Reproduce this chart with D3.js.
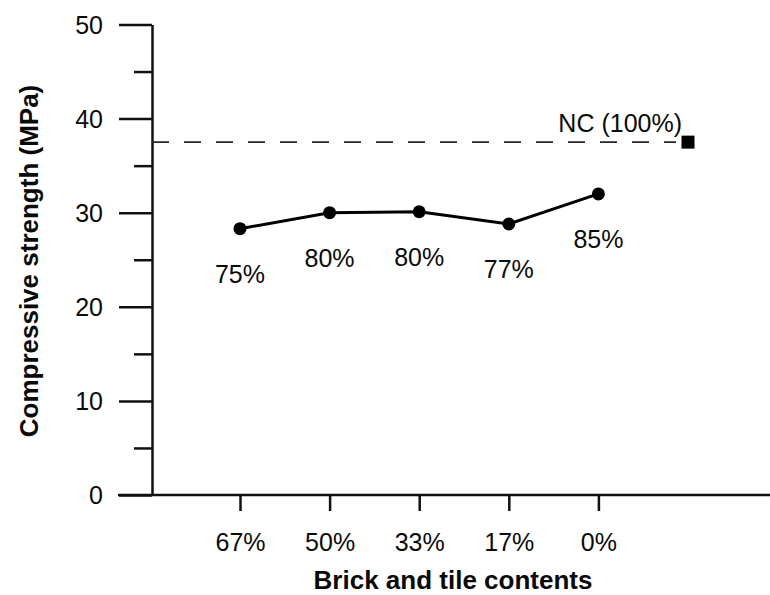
<!DOCTYPE html>
<html>
<head>
<meta charset="utf-8">
<script src="https://cdn.jsdelivr.net/npm/d3@7/dist/d3.min.js"></script>
<style>
  html, body { margin: 0; padding: 0; background: #fff; }
  svg { display: block; }
  text { font-family: "Liberation Sans", Arial, Helvetica, sans-serif; fill: #0a0a0a; }
</style>
</head>
<body>
<svg id="chart" width="770" height="595"></svg>
<script>
// ---- data ----
const categories = ["67%", "50%", "33%", "17%", "0%"];
const strength = [28.3, 30.0, 30.1, 28.8, 32.0];
const pointLabels = ["75%", "80%", "80%", "77%", "85%"];
const ncKey = "NC";
const ncValue = 37.5;
const ncLabel = "NC (100%)";
const yMajorTicks = [0, 10, 20, 30, 40, 50];
const yMinorTicks = [5, 15, 25, 35, 45];
const xTitle = "Brick and tile contents";
const yTitle = "Compressive strength (MPa)";

const svg = d3.select("#chart");

const x = d3.scalePoint().domain([...categories, ncKey]).range([240, 688]);
const y = d3.scaleLinear().domain([0, 50]).range([495, 24.5]);

// y axis major ticks
const yAxis = svg.append("g").attr("transform", "translate(152,0)")
  .call(d3.axisLeft(y).tickValues(yMajorTicks).tickSize(33).tickSizeOuter(0).tickPadding(16).tickFormat(d3.format("d")));
yAxis.selectAll("text").style("font-size", "25px").attr("dy", "0.35em");
yAxis.selectAll("line, path").attr("stroke", "#111").attr("stroke-width", 2.5);

// y axis minor ticks
const yMinor = svg.append("g").attr("transform", "translate(152,0)")
  .call(d3.axisLeft(y).tickValues(yMinorTicks).tickSize(18).tickSizeOuter(0).tickFormat(""));
yMinor.select(".domain").remove();
yMinor.selectAll("line").attr("stroke", "#111").attr("stroke-width", 2.5);

// x axis
const xAxis = svg.append("g").attr("transform", `translate(0,${y(0)})`)
  .call(d3.axisBottom(x).tickValues(categories).tickSize(16).tickPadding(22));
xAxis.select(".domain").remove();
xAxis.selectAll("text").style("font-size", "25px");
xAxis.selectAll("line").attr("stroke", "#111").attr("stroke-width", 2.5);
svg.append("line")
  .attr("x1", 118).attr("x2", 770)
  .attr("y1", y(0)).attr("y2", y(0))
  .attr("stroke", "#111").attr("stroke-width", 2.5);

// NC dashed reference line
svg.append("line")
  .attr("x1", 152).attr("x2", x(ncKey) - 12)
  .attr("y1", y(ncValue)).attr("y2", y(ncValue))
  .attr("stroke", "#2a2230").attr("stroke-width", 1.6)
  .attr("stroke-dasharray", "17,15");
svg.append("rect")
  .attr("x", x(ncKey) - 6.5).attr("y", y(ncValue) - 6.5)
  .attr("width", 13).attr("height", 13)
  .attr("fill", "#000");
svg.append("text")
  .attr("x", x(ncKey) - 6).attr("y", y(ncValue) - 10)
  .attr("text-anchor", "end")
  .style("font-size", "25px")
  .text(ncLabel);

// data line
const data = categories.map((c, i) => ({ c, v: strength[i], label: pointLabels[i] }));
svg.append("path")
  .datum(data)
  .attr("fill", "none")
  .attr("stroke", "#000")
  .attr("stroke-width", 3)
  .attr("d", d3.line().x(d => x(d.c)).y(d => y(d.v)));
svg.selectAll("circle.pt").data(data).join("circle")
  .attr("class", "pt")
  .attr("cx", d => x(d.c)).attr("cy", d => y(d.v)).attr("r", 6.5)
  .attr("fill", "#000");
svg.selectAll("text.pl").data(data).join("text")
  .attr("class", "pl")
  .attr("x", d => x(d.c)).attr("y", d => y(d.v) + 54)
  .attr("text-anchor", "middle")
  .style("font-size", "25px")
  .text(d => d.label);

// titles
svg.append("text")
  .attr("x", 453).attr("y", 589)
  .attr("text-anchor", "middle")
  .style("font-size", "26px").style("font-weight", "bold")
  .text(xTitle);
svg.append("text")
  .attr("transform", "translate(38,261) rotate(-90)")
  .attr("text-anchor", "middle")
  .style("font-size", "26px").style("font-weight", "bold")
  .text(yTitle);
</script>
</body>
</html>
